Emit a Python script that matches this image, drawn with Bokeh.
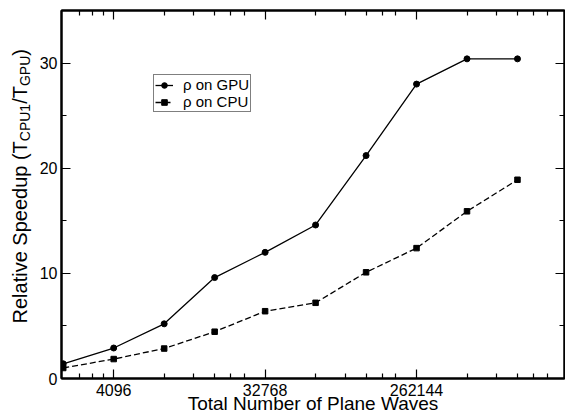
import math
from bokeh.plotting import figure
from bokeh.layouts import row
from bokeh.models import (FixedTicker, LinearAxis, LogAxis, Legend, LegendItem, Label,
                          PrintfTickFormatter, CustomJSTickFormatter, Range1d)
from bokeh.embed import file_html
from bokeh.resources import INLINE

# ---- data ----
plane_waves = [2048, 4096, 8192, 16384, 32768, 65536, 131072, 262144, 524288, 1048576]
speedup_gpu = [1.4, 2.9, 5.2, 9.6, 12.0, 14.6, 21.2, 28.0, 30.4, 30.4]
speedup_cpu = [1.0, 1.85, 2.85, 4.45, 6.4, 7.2, 10.1, 12.4, 15.9, 18.9]

x_major_ticks = [4096, 32768, 262144]
x_minor_ticks = [2560, 3072, 3584] + [m * k for m in x_major_ticks for k in range(2, 7)]
y_major_ticks = [0, 10, 20, 30]
y_minor_ticks = [5, 15, 25]

FONT = "Liberation Sans"
H = 416
LAB_W = 34  # width of the strip that holds the y-axis title

p = figure(width=565 - LAB_W, height=H, output_backend="svg", toolbar_location=None,
           x_axis_type="log", x_range=Range1d(2000, 2000000), y_range=Range1d(0, 35),
           min_border_left=61 - LAB_W, min_border_right=1, min_border_top=10,
           min_border_bottom=38)
p.background_fill_color = "white"
p.border_fill_color = "white"
p.outline_line_color = "black"
p.outline_line_width = 2
p.xgrid.visible = False
p.ygrid.visible = False

xt = FixedTicker(ticks=x_major_ticks, minor_ticks=x_minor_ticks)
yt = FixedTicker(ticks=y_major_ticks, minor_ticks=y_minor_ticks)


def style(ax, labels=True):
    ax.axis_line_color = "black"
    ax.axis_line_width = 2
    ax.major_tick_in = 9
    ax.major_tick_out = 0
    ax.minor_tick_in = 5
    ax.minor_tick_out = 0
    ax.major_tick_line_width = 1.2
    ax.minor_tick_line_width = 1.2
    ax.major_tick_line_color = "black"
    ax.minor_tick_line_color = "black"
    ax.major_label_text_font = FONT
    ax.major_label_text_font_size = "16px"
    ax.major_label_text_color = "black"
    if not labels:
        ax.major_label_standoff = 0
        ax.axis_label_standoff = 0
        ax.major_label_text_font_size = "0px"
        ax.formatter = CustomJSTickFormatter(code="return ''")


xa = p.xaxis[0]
xa.ticker = xt
xa.formatter = PrintfTickFormatter(format="%d")
style(xa)
xa.major_label_standoff = 5
xa.axis_label = "Total Number of Plane Waves"
xa.axis_label_text_font = FONT
xa.axis_label_text_font_size = "19px"
xa.axis_label_text_font_style = "normal"
xa.axis_label_text_color = "black"
xa.axis_label_standoff = -6

ya = p.yaxis[0]
ya.ticker = yt
style(ya)
ya.major_label_standoff = 4

top = LogAxis(ticker=xt)
style(top, labels=False)
p.add_layout(top, "above")
right = LinearAxis(ticker=yt)
style(right, labels=False)
p.add_layout(right, "right")

l1 = p.line(plane_waves, speedup_gpu, line_color="black", line_width=1.3)
s1 = p.scatter(plane_waves, speedup_gpu, marker="circle", size=6,
               fill_color="black", line_color="black")
l2 = p.line(plane_waves, speedup_cpu, line_color="black", line_width=1.3, line_dash="6 3")
s2 = p.scatter(plane_waves, speedup_cpu, marker="square", size=5.5,
               fill_color="black", line_color="black")

legend = Legend(items=[LegendItem(label="ρ on GPU", renderers=[l1, s1]),
                       LegendItem(label="ρ on CPU", renderers=[l2, s2])],
                location=(92, 266))
legend.label_text_font = FONT
legend.label_text_font_size = "15px"
legend.label_text_color = "black"
legend.label_height = 14
legend.glyph_height = 14
legend.glyph_width = 18
legend.label_standoff = 10
legend.spacing = 0
legend.padding = 1
legend.margin = 0
legend.border_line_color = "black"
legend.border_line_width = 1.2
legend.background_fill_color = "white"
legend.background_fill_alpha = 1
p.add_layout(legend)

# ---- strip holding the rotated y-axis title with subscripts ----
lab = figure(width=LAB_W, height=H, output_backend="svg", toolbar_location=None,
             x_axis_location=None, y_axis_location=None,
             x_range=Range1d(0, 1), y_range=Range1d(0, 1),
             min_border=0, min_border_left=0, min_border_right=0,
             min_border_top=0, min_border_bottom=0)
lab.outline_line_color = None
lab.xgrid.visible = False
lab.ygrid.visible = False
lab.background_fill_color = "white"
lab.border_fill_color = "white"

main_px, sub_px = 20, 14
w_main1 = 9.115 * main_px   # "Relative Speedup (T"
w_sub1 = 2.667 * sub_px     # "CPU1"
w_main2 = 0.889 * main_px   # "/T"
w_sub2 = 2.167 * sub_px     # "GPU"
# text is anchored at the middle of its line box; baseline sits 0.3465 em to the right
main_x = 26.7 - 0.3465 * main_px
sub_x = 29.2 - 0.3465 * sub_px
y0 = 323.0
pieces = [("Relative Speedup (T", main_px, main_x, w_main1),
          ("CPU1", sub_px, sub_x, w_sub1),
          ("/T", main_px, main_x, w_main2),
          ("GPU", sub_px, sub_x, w_sub2),
          (")", main_px, main_x, 0)]
cur = y0
for txt, fs, bx, w in pieces:
    lab.add_layout(Label(x=bx, y=cur, x_units="canvas", y_units="canvas", text=txt,
                         angle=math.pi / 2, text_align="left", text_baseline="middle",
                         text_font=FONT, text_font_size=f"{fs}px", text_color="black"))
    cur -= w

layout = row(lab, p, spacing=0)
open("out.html", "w").write(file_html(layout, INLINE))
